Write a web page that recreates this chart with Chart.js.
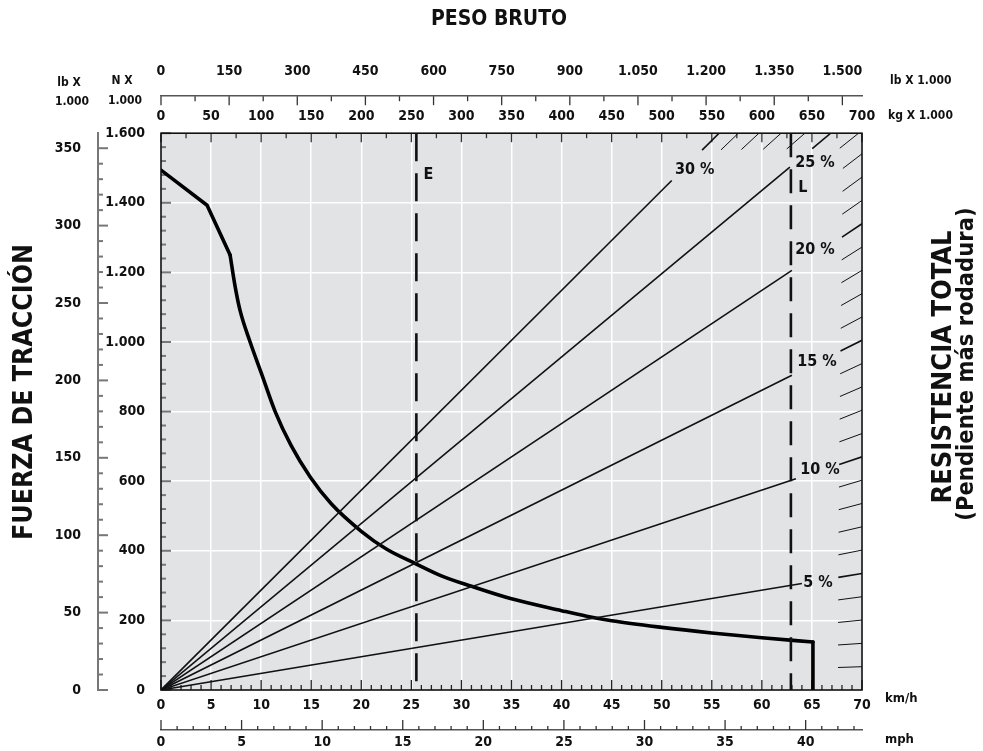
<!DOCTYPE html>
<html>
<head>
<meta charset="utf-8">
<script src="https://cdn.jsdelivr.net/npm/chart.js@4"></script>
<style>
  html, body { margin: 0; padding: 0; background: #fff; }
  #wrap { width: 983px; height: 751px; position: relative; }
</style>
</head>
<body>
<div id="wrap"><canvas id="chart" width="983" height="751"></canvas></div>
<script>
// ======================
// DATA
// ======================
// rimpull curve (km/h, kN)
const speedKmh  = [0, 4.6, 6.9, 7.4, 7.9, 8.9, 10, 11.4, 13, 14.9, 17, 20, 22.5, 25.5, 28, 31, 35, 40, 42.5, 45, 50, 55, 60, 65.1, 65.1];
const rimpullKN = [1494, 1393, 1250, 1160, 1090, 1000, 912, 800, 702, 612, 535, 456, 405, 362, 328, 298, 262, 228, 212, 199, 180, 164, 150, 138, 0];
const kneeIndex = 2;   // end of the straight part at low speed

// grade lines (total resistance %), weight in tonnes
const gradesMain   = [5, 10, 15, 20, 25, 30];
const gradeEndT    = [640, 634, 630, 630, 628, 510];
const gradeLabels  = ["5 %", "10 %", "15 %", "20 %", "25 %", "30 %"];
const gradeLabelT  = [656, 658, 655, 653, 653, 533];
const gradeLabelKN = [307, 632, 942, 1264, 1514, 1494];
const hatchGrades  = [1, 2, 3, 4, 5, 6, 7, 8, 9, 10, 11, 12, 13, 14, 15,
                      16, 17, 18, 19, 20, 21, 22, 23, 24, 25, 26, 27, 28, 29, 30];
const kNPerTonnePct = 0.0957;

// vertical markers (km/h)
const markerNames   = ["E", "L"];
const markerKmh     = [25.5, 62.9];
const markerLabelKN = [1480, 1443];

// axes
const kmhMax = 70, kgMax = 700, kNMax = 1600;
const lbPerKg = 2.20462, kNPerKlb = 4.44822, kmhPerMph = 1.609344;

// ======================
// STYLE
// ======================
const FONT = '"Liberation Sans Narrow", "Arial Narrow", "DejaVu Sans Condensed", "Roboto Condensed", sans-serif';
Chart.defaults.font.family = FONT;
Chart.defaults.font.weight = "bold";
Chart.defaults.font.size = 14;
Chart.defaults.color = "#111";

function fmt(v) {
  if (v >= 1000) return Math.floor(v / 1000) + "." + String(v % 1000).padStart(3, "0");
  return String(v);
}

function fixedTicks(step, last) {
  return function(scale) {
    const t = [];
    for (let i = 0; i * step <= last + 1e-9; i++) t.push({ value: i * step });
    scale.ticks = t;
  };
}

function whiteGrid(every, max) {
  return ctx => {
    const v = ctx.tick ? ctx.tick.value : -1;
    return (v > 0 && v < max && v % every === 0) ? "#ffffff" : "rgba(0,0,0,0)";
  };
}

// ======================
// DATASETS
// ======================
const datasets = [];

gradesMain.forEach((g, i) => {
  datasets.push({
    data: [{ x: 0, y: 0 }, { x: gradeEndT[i], y: gradeEndT[i] * g * kNPerTonnePct }],
    xAxisID: "xkg", yAxisID: "y",
    borderColor: "#111", borderWidth: 1.6
  });
});

// short continuation strokes along the plot edge
const pxAspect = (557 / kNMax) / (701 / kgMax);
hatchGrades.forEach(g => {
  const endT = Math.min(kgMax, kNMax / (g * kNPerTonnePct));
  const slope = g * kNPerTonnePct * pxAspect;
  const dT = 24 / Math.sqrt(1 + slope * slope);
  datasets.push({
    data: [{ x: endT - dT, y: (endT - dT) * g * kNPerTonnePct }, { x: endT, y: endT * g * kNPerTonnePct }],
    xAxisID: "xkg", yAxisID: "y",
    borderColor: "#111", borderWidth: g % 5 === 0 ? 1.6 : 1
  });
});

markerKmh.forEach((v, i) => {
  datasets.push({
    data: [{ x: v, y: kNMax }, { x: v, y: 0 }],
    xAxisID: "x", yAxisID: "y",
    borderColor: "#111", borderWidth: 2.6,
    borderDash: i === 0 ? [28, 12] : [24, 12]
  });
});

// rimpull: straight start, smooth middle, vertical drop at top speed
const rimpull = speedKmh.map((v, i) => ({ x: v, y: rimpullKN[i] }));
const last = rimpull.length - 1;
const curveStyle = { xAxisID: "x", yAxisID: "y", borderColor: "#000", borderWidth: 3.6, borderCapStyle: "round", borderJoinStyle: "round" };
datasets.push(Object.assign({ data: rimpull.slice(0, kneeIndex + 1) }, curveStyle));
datasets.push(Object.assign({ data: rimpull.slice(kneeIndex, last), cubicInterpolationMode: "monotone" }, curveStyle));
datasets.push(Object.assign({ data: rimpull.slice(last - 1) }, curveStyle, { borderCapStyle: "butt" }));

// ======================
// PLUGINS
// ======================
function markTicks(ctx, scale, horiz, base, dir, majorLen, minorLen, color, width) {
  ctx.save();
  ctx.strokeStyle = color;
  ctx.lineWidth = width;
  scale.ticks.forEach(t => {
    const p = scale.getPixelForValue(t.value);
    const len = t.label !== "" ? majorLen : minorLen;
    ctx.beginPath();
    if (horiz) { ctx.moveTo(p, base); ctx.lineTo(p, base + dir * len); }
    else { ctx.moveTo(base, p); ctx.lineTo(base + dir * len, p); }
    ctx.stroke();
  });
  ctx.restore();
}

function text(ctx, str, x, y, size, align, rot) {
  ctx.save();
  ctx.font = "bold " + size + "px " + FONT;
  ctx.fillStyle = "#111";
  ctx.textAlign = align || "center";
  ctx.textBaseline = "middle";
  ctx.translate(x, y);
  if (rot) ctx.rotate(rot);
  ctx.fillText(str, 0, 0);
  ctx.restore();
}

const decor = {
  id: "decor",
  beforeDraw(chart) {
    const { ctx, chartArea: a } = chart;
    ctx.save();
    ctx.fillStyle = "#e2e3e5";
    ctx.fillRect(a.left, a.top, a.right - a.left, a.bottom - a.top);
    ctx.restore();
  },
  beforeDatasetsDraw(chart) {
    const { ctx, chartArea: a, scales: s } = chart;
    markTicks(ctx, s.x, true, a.bottom, -1, 10, 5, "#222", 1.3);
    markTicks(ctx, s.xmph, true, s.xmph.top, -1, 10, 4, "#333", 1.3);
    markTicks(ctx, s.xkg, true, a.top, 1, 9, 5, "#333", 1.3);
    markTicks(ctx, s.xlb, true, s.xlb.bottom, 1, 9, 5, "#333", 1.3);
    markTicks(ctx, s.y, false, a.left, 1, 10, 5, "#777", 2);
    markTicks(ctx, s.ylb, false, s.ylb.right, 1, 10, 5, "#777", 2);
  },
  afterDatasetsDraw(chart) {
    const { ctx, chartArea: a, scales: s } = chart;
    ctx.save();
    ctx.strokeStyle = "#111";
    ctx.lineWidth = 1.6;
    ctx.strokeRect(a.left, a.top, a.right - a.left, a.bottom - a.top);
    ctx.restore();

    gradeLabels.forEach((lab, i) => {
      text(ctx, lab, s.xkg.getPixelForValue(gradeLabelT[i]), s.y.getPixelForValue(gradeLabelKN[i]), 16);
    });
    markerNames.forEach((n, i) => {
      text(ctx, n, s.x.getPixelForValue(markerKmh[i]) + 12, s.y.getPixelForValue(markerLabelKN[i]), 16);
    });
  },
  afterDraw(chart) {
    const { ctx } = chart;
    text(ctx, "FUERZA DE TRACCIÓN", 25, 392, 26.5, "center", -Math.PI / 2);
    text(ctx, "RESISTENCIA TOTAL", 944, 367, 27, "center", -Math.PI / 2);
    text(ctx, "(Pendiente más rodadura)", 967, 364, 23.5, "center", -Math.PI / 2);
    text(ctx, "lb X", 69, 83, 12);
    text(ctx, "1.000", 72, 102, 12);
    text(ctx, "N X", 122, 81, 12);
    text(ctx, "1.000", 125, 101, 12);
    text(ctx, "lb X 1.000", 890, 81, 12, "left");
    text(ctx, "kg X 1.000", 888, 116, 12, "left");
    text(ctx, "km/h", 885, 699, 13, "left");
    text(ctx, "mph", 885, 740, 13, "left");
  }
};

// ======================
// CHART
// ======================
new Chart(document.getElementById("chart"), {
  type: "scatter",
  data: { datasets: datasets },
  plugins: [decor],
  options: {
    responsive: false,
    animation: false,
    devicePixelRatio: 1,
    showLine: true,
    elements: { point: { radius: 0, hoverRadius: 0 }, line: { tension: 0 } },
    layout: { padding: { left: 15, right: 0, top: 0, bottom: 0 } },
    plugins: {
      legend: { display: false },
      tooltip: { enabled: false },
      title: {
        display: true,
        text: "PESO BRUTO",
        font: { size: 21, weight: "bold" },
        color: "#111",
        padding: { top: 7, bottom: 0 }
      }
    },
    scales: {
      x: {
        type: "linear", position: "bottom", min: 0, max: kmhMax, weight: 0,
        afterBuildTicks: fixedTicks(1, kmhMax),
        afterFit: sc => { sc.height = 40; },
        ticks: { autoSkip: false, maxRotation: 0, padding: 7, callback: v => v % 5 === 0 ? String(v) : "" },
        grid: { drawTicks: false, color: whiteGrid(5, kmhMax), lineWidth: 1.5 },
        border: { display: false }
      },
      xmph: {
        type: "linear", position: "bottom", min: 0, max: kmhMax / kmhPerMph, weight: 1,
        afterBuildTicks: fixedTicks(1, 43),
        afterFit: sc => { sc.height = 21; },
        ticks: { autoSkip: false, maxRotation: 0, padding: 4, callback: v => v % 5 === 0 ? String(v) : "" },
        grid: { drawOnChartArea: false, drawTicks: false },
        border: { display: true, color: "#555", width: 1.5 }
      },
      xkg: {
        type: "linear", position: "top", min: 0, max: kgMax, weight: 0,
        afterBuildTicks: fixedTicks(25, kgMax),
        afterFit: sc => { sc.height = 37; },
        ticks: { autoSkip: false, maxRotation: 0, padding: 8, callback: v => v % 50 === 0 ? String(v) : "" },
        grid: { drawOnChartArea: false, drawTicks: false },
        border: { display: false }
      },
      xlb: {
        type: "linear", position: "top", min: 0, max: kgMax * lbPerKg, weight: 1,
        afterBuildTicks: fixedTicks(75, 1500),
        afterFit: sc => { sc.height = 64; },
        ticks: { autoSkip: false, maxRotation: 0, padding: 16, callback: v => v % 150 === 0 ? fmt(v) : "" },
        grid: { drawOnChartArea: false, drawTicks: false },
        border: { display: true, color: "#555", width: 1.5 }
      },
      y: {
        type: "linear", position: "left", min: 0, max: kNMax, weight: 0,
        afterBuildTicks: fixedTicks(40, kNMax),
        afterFit: sc => { sc.width = 63; },
        ticks: { autoSkip: false, padding: 16, callback: v => v % 200 === 0 ? fmt(v) : "" },
        grid: { drawTicks: false, color: whiteGrid(200, kNMax), lineWidth: 1.5 },
        border: { display: false }
      },
      ylb: {
        type: "linear", position: "left", min: 0, max: kNMax / kNPerKlb, weight: 1,
        afterBuildTicks: fixedTicks(10, 350),
        afterFit: sc => { sc.width = 83; },
        ticks: { autoSkip: false, padding: 17, callback: v => v % 50 === 0 ? String(v) : "" },
        grid: { drawOnChartArea: false, drawTicks: false },
        border: { display: true, color: "#777", width: 2 }
      },
      // empty strip on the right that holds the resistance title
      yr: {
        type: "linear", position: "right", min: 0, max: 1,
        afterFit: sc => { sc.width = 121; },
        ticks: { display: false },
        grid: { display: false, drawTicks: false },
        border: { display: false }
      }
    }
  }
});
</script>
</body>
</html>
